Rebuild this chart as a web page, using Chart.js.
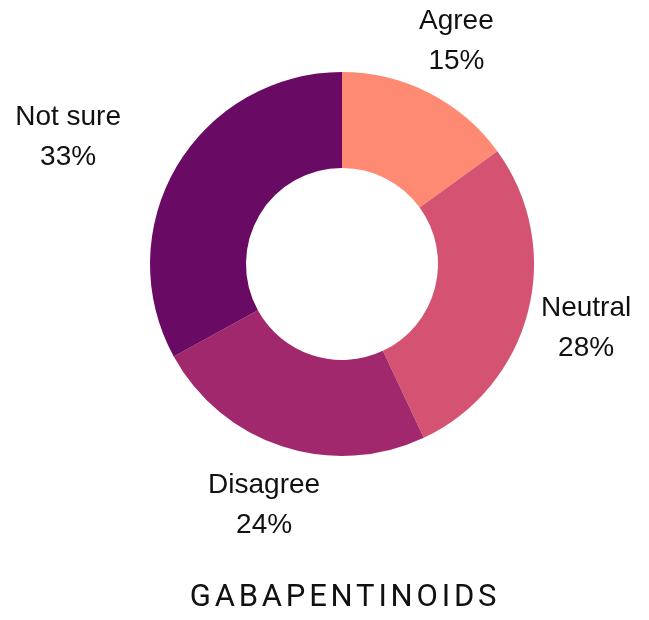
<!DOCTYPE html>
<html>
<head>
<meta charset="utf-8">
<script src="https://cdn.jsdelivr.net/npm/chart.js@4/dist/chart.umd.min.js"></script>
<style>
html, body { margin: 0; padding: 0; background: #fff; }
#wrap { width: 649px; height: 620px; }
</style>
</head>
<body>
<div id="wrap"><canvas id="grafico" width="649" height="620"></canvas></div>
<script>
// datos
let categorias = ["Agree", "Neutral", "Disagree", "Not sure"];
let valores = [15, 28, 24, 33];
let colores = ["#fe8a74", "#d45272", "#a1286c", "#690a64"];
let titulo = "GABAPENTINOIDS";

// etiquetas fuera del anillo
const etiquetasPlugin = {
  id: "etiquetas",
  afterDatasetsDraw(chart, args, opts) {
    let ctx = chart.ctx;
    let meta = chart.getDatasetMeta(0);
    ctx.save();
    ctx.fillStyle = "#111";
    ctx.font = "28px 'Liberation Sans', Arial, sans-serif";
    ctx.textAlign = "center";
    ctx.textBaseline = "middle";
    meta.data.forEach((arc, i) => {
      let ang = (arc.startAngle + arc.endAngle) / 2;
      let r = opts.radio;
      let x = arc.x + Math.cos(ang) * r + (opts.ajusteX[i] || 0);
      let y = arc.y + Math.sin(ang) * r + 2;
      ctx.fillText(categorias[i], x, y - 20);
      ctx.fillText(valores[i] + "%", x, y + 20);
    });
    ctx.restore();
  }
};

const tituloPlugin = {
  id: "tituloAbajo",
  afterDraw(chart) {
    let ctx = chart.ctx;
    ctx.save();
    ctx.fillStyle = "#111";
    ctx.font = "400 31px Roboto, sans-serif";
    ctx.letterSpacing = "3.8px";
    ctx.textAlign = "center";
    ctx.textBaseline = "middle";
    ctx.fillText(titulo, 345, 598);
    ctx.restore();
  }
};

let ctx = document.getElementById("grafico").getContext("2d");

window.miGrafico = new Chart(ctx, {
  type: "doughnut",
  data: {
    labels: categorias,
    datasets: [{
      data: valores,
      backgroundColor: colores,
      borderWidth: 0,
      hoverOffset: 0
    }]
  },
  options: {
    responsive: false,
    animation: false,
    cutout: "50%",
    layout: {
      padding: { left: 150, right: 115, top: 72, bottom: 164 }
    },
    plugins: {
      legend: { display: false },
      tooltip: { enabled: false },
      etiquetas: { radio: 252, ajusteX: [0, 0, 0, -57] }
    }
  },
  plugins: [etiquetasPlugin, tituloPlugin]
});
</script>
</body>
</html>
